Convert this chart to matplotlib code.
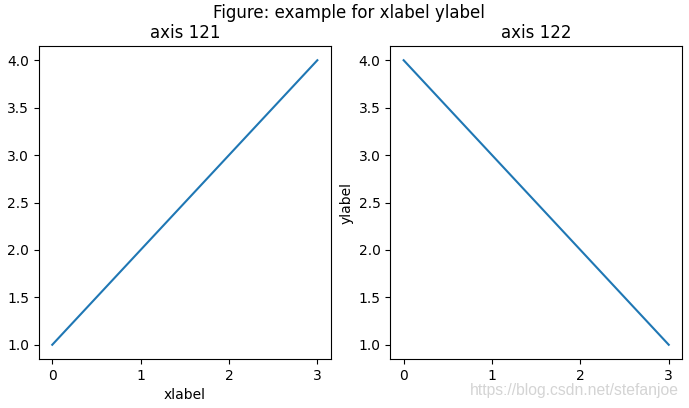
import matplotlib
matplotlib.use("Agg")
import matplotlib.pyplot as plt

x_values = [0, 1, 2, 3]
left_values = [1, 2, 3, 4]
right_values = [4, 3, 2, 1]
suptitle_text = "Figure: example for xlabel ylabel"
left_title = "axis 121"
right_title = "axis 122"
watermark = "https://blog.csdn.net/stefanjoe"

fig, (ax1, ax2) = plt.subplots(1, 2, figsize=(6.89, 4.08), dpi=100)
fig.subplots_adjust(left=39/689, right=682/689, top=1-46/408, bottom=1-359/408, wspace=0.205)

ax1.plot(x_values, left_values)
ax1.set_title(left_title)
ax1.set_xlabel("xlabel")

ax2.plot(x_values, right_values)
ax2.set_title(right_title)
ax2.set_ylabel("ylabel")

for ax in (ax1, ax2):
    ax.set_xticks(x_values)

fig.suptitle(suptitle_text, x=0.507, y=0.99, fontsize=12)
fig.text(679/689, 1-391/408, watermark, ha="right", va="center",
         color="#d4d4d4", fontsize=11.3, family="Liberation Sans")

fig.savefig("out.png", dpi=100)
